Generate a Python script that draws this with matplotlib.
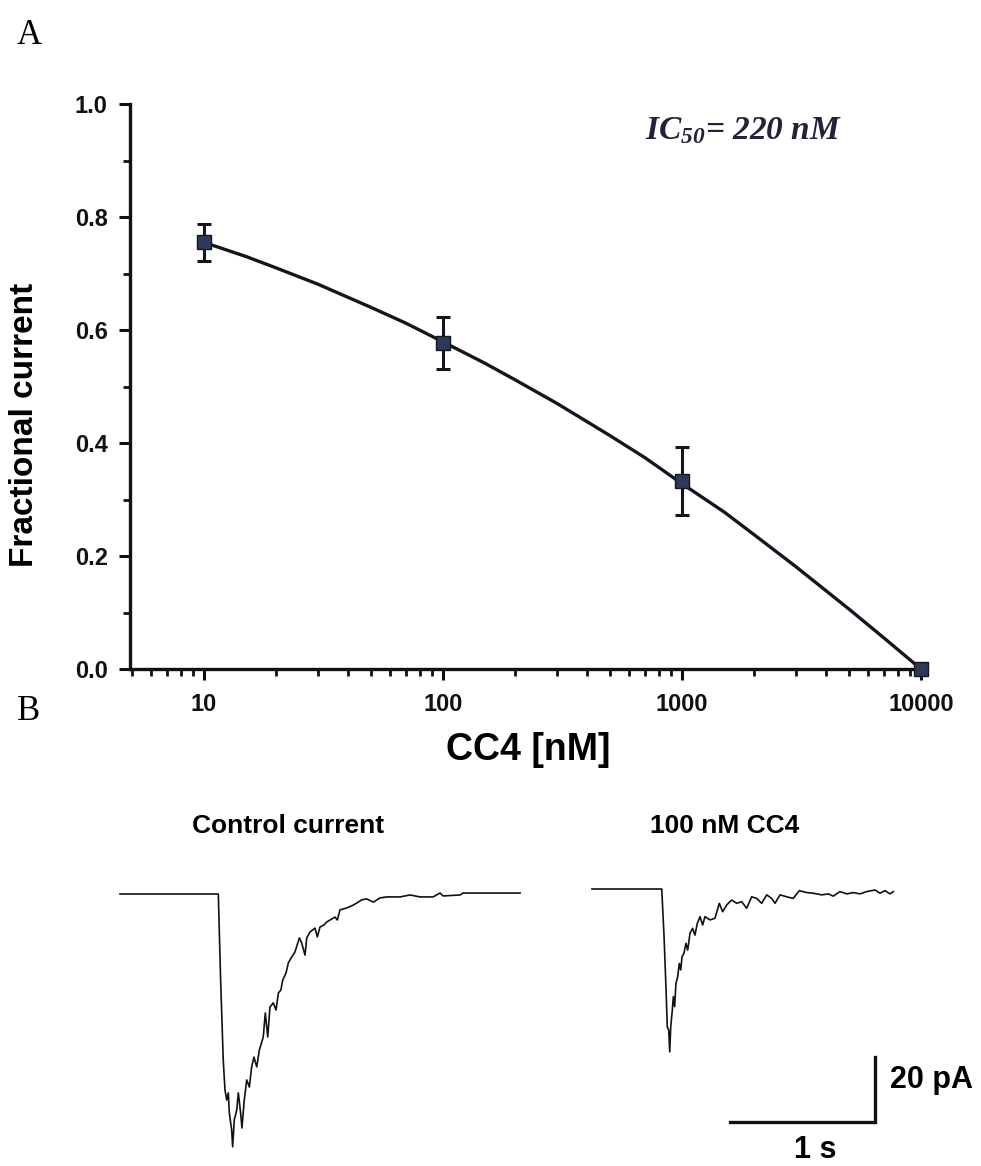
import matplotlib
matplotlib.use("Agg")
import matplotlib.pyplot as plt
from matplotlib.ticker import FixedLocator, FuncFormatter, LogLocator, NullFormatter

plt.rcParams['font.family'] = ['Liberation Sans', 'DejaVu Sans']
plt.rcParams['mathtext.fontset'] = 'custom'
plt.rcParams['mathtext.rm'] = 'Liberation Serif:italic:bold'
plt.rcParams['mathtext.it'] = 'Liberation Serif:italic:bold'

# panel A: dose-response
conc = [10, 100, 1000, 10000]
frac = [0.755, 0.577, 0.333, 0.0]
frac_err = [0.033, 0.046, 0.060, 0.0]

# fitted curve
fit_conc = [10, 15, 20, 30, 50, 70, 100, 150, 200, 300, 500, 700, 1000,
            1500, 2000, 3000, 5000, 7000, 10000]
fit_frac = [0.755, 0.730, 0.710, 0.681, 0.640, 0.612, 0.579, 0.541, 0.512,
            0.470, 0.413, 0.374, 0.328, 0.278, 0.238, 0.181, 0.106, 0.055, 0.0]

x_ticks = [10, 100, 1000, 10000]
y_ticks = [0.0, 0.2, 0.4, 0.6, 0.8, 1.0]

# panel B: current traces (time in s, current in pA)
ctrl_t = [0.000, 0.678, 0.694, 0.712, 0.724, 0.736, 0.747, 0.754, 0.770, 0.777,
          0.788, 0.805, 0.816, 0.832, 0.841, 0.857, 0.874, 0.892, 0.908, 0.924,
          0.943, 0.961, 0.988, 1.002, 1.019, 1.034, 1.057, 1.076, 1.092, 1.110,
          1.122, 1.145, 1.161, 1.184, 1.207, 1.237, 1.253, 1.276, 1.288, 1.310,
          1.345, 1.361, 1.379, 1.407, 1.426, 1.460, 1.483, 1.499, 1.517, 1.563,
          1.609, 1.643, 1.667, 1.701, 1.747, 1.793, 1.839, 1.885, 1.931, 2.000,
          2.069, 2.159, 2.207, 2.228, 2.345, 2.366, 2.503, 2.759]
ctrl_i = [0.0, 0.0, -26.5, -51.1, -60.3, -63.4, -61.2, -67.4, -72.6, -77.8,
          -69.5, -66.5, -61.2, -67.4, -72.0, -63.4, -57.2, -59.4, -53.2, -50.2,
          -53.2, -48.0, -44.0, -36.6, -44.0, -34.8, -33.5, -35.7, -30.5, -29.5,
          -26.5, -24.3, -21.2, -19.4, -17.8, -13.5, -15.1, -18.8, -13.5, -11.7,
          -10.5, -13.2, -10.2, -9.5, -8.6, -7.7, -7.1, -8.0, -4.9, -4.3,
          -3.4, -2.5, -1.8, -1.5, -2.5, -1.2, -0.9, -0.9, -0.9, -0.3,
          -0.9, -0.9, 0.3, -0.6, -0.3, 0.3, 0.3, 0.3]

cc4_t = [0.000, 0.481, 0.497, 0.510, 0.519, 0.529, 0.536, 0.543, 0.554, 0.561,
         0.570, 0.579, 0.591, 0.602, 0.612, 0.621, 0.634, 0.648, 0.660, 0.676,
         0.694, 0.710, 0.726, 0.745, 0.763, 0.779, 0.814, 0.848, 0.878, 0.901,
         0.929, 0.963, 0.998, 1.032, 1.067, 1.101, 1.136, 1.170, 1.205, 1.239,
         1.262, 1.297, 1.343, 1.388, 1.430, 1.481, 1.526, 1.584, 1.630, 1.664,
         1.710, 1.757, 1.802, 1.848, 1.894, 1.952, 1.986, 2.021, 2.055, 2.078]
cc4_i = [0.0, 0.0, -14.7, -30.1, -42.4, -43.4, -50.1, -42.4, -37.2, -33.1,
         -36.2, -29.0, -27.0, -22.9, -24.9, -20.8, -19.8, -16.7, -18.8, -13.6,
         -12.1, -14.2, -10.6, -8.5, -11.1, -8.5, -9.5, -9.0, -4.4, -7.0,
         -4.9, -3.4, -4.4, -3.9, -5.9, -2.4, -2.9, -4.4, -1.8, -2.9,
         -4.4, -1.8, -2.4, -2.9, -0.5, -1.1, -1.3, -1.8, -1.5, -2.2,
         -0.8, -1.5, -1.1, -1.5, -0.8, -0.3, -1.3, -0.5, -1.5, -0.8]

W, H = 981, 1166


def fx(px):
    return px / W


def fy(py):
    return 1 - py / H


fig = plt.figure(figsize=(9.81, 11.66), dpi=100)

# ---- panel A ----
ax = fig.add_axes([fx(130), fy(669), fx(926) - fx(130), fy(104) - fy(669)])
ax.plot(fit_conc, fit_frac, color='#151520', lw=2.4, zorder=2)
ax.errorbar(conc, frac, yerr=frac_err, fmt='s', color='#151520',
            mfc='#2c3a58', mec='#151520', ms=10, elinewidth=2.2,
            capsize=5, capthick=2.2, zorder=3, clip_on=False)
ax.set_xscale('log')
ax.set_xlim(4.9, 10500)
ax.set_ylim(0, 1.0)
ax.spines['top'].set_visible(False)
ax.spines['right'].set_visible(False)
for s in ('left', 'bottom'):
    ax.spines[s].set_linewidth(2.4)
    ax.spines[s].set_color('#111111')

ax.xaxis.set_major_locator(FixedLocator(x_ticks))
ax.xaxis.set_major_formatter(FuncFormatter(lambda v, p: '%d' % v))
ax.xaxis.set_minor_locator(LogLocator(base=10, subs=range(2, 10), numticks=20))
ax.xaxis.set_minor_formatter(NullFormatter())
ax.yaxis.set_major_locator(FixedLocator(y_ticks))
ax.yaxis.set_minor_locator(FixedLocator([0.1, 0.3, 0.5, 0.7, 0.9]))
ax.yaxis.set_major_formatter(FuncFormatter(lambda v, p: '%.1f' % v))

ax.tick_params(which='major', direction='out', length=8, width=2.2,
               labelsize=17, colors='#111111')
ax.tick_params(which='minor', direction='out', length=5, width=2, colors='#111111')
ax.tick_params(axis='x', which='major', pad=9)
ax.tick_params(axis='y', which='major', pad=8)
for lab in ax.get_xticklabels() + ax.get_yticklabels():
    lab.set_fontweight('bold')

ax.set_xlabel('CC4 [nM]', fontsize=27, fontweight='bold')
ax.xaxis.set_label_coords(0.5, (669 - 750) / 565, transform=ax.transAxes)
ax.xaxis.label.set_va('center')
ax.set_ylabel('Fractional current', fontsize=24, fontweight='bold')
ax.yaxis.set_label_coords((25 - 130) / 796, (669 - 425) / 565, transform=ax.transAxes)
ax.yaxis.label.set_va('center')

fig.text(fx(645), fy(131), 'IC$_{50}$= 220 nM', fontsize=24, color='#22223a',
         family='Liberation Serif', style='italic', weight='bold', va='center')

fig.text(fx(17), fy(36), 'A', fontsize=25, family='Liberation Serif', va='center')
fig.text(fx(17), fy(712), 'B', fontsize=25, family='Liberation Serif', va='center')

# ---- panel B ----
px_per_s = 145.0
px_per_pa = 3.25
bx = fig.add_axes([fx(100), fy(1166), fx(980) - fx(100), fy(860) - fy(1166)])
bx.set_xlim(-20 / px_per_s, 860 / px_per_s)
bx.set_ylim(-272 / px_per_pa, 34 / px_per_pa)
bx.axis('off')

cc4_dt = 472 / px_per_s
cc4_di = 5 / px_per_pa
bx.plot(ctrl_t, ctrl_i, color='#111111', lw=1.2)
bx.plot([t + cc4_dt for t in cc4_t], [i + cc4_di for i in cc4_i],
        color='#111111', lw=1.2)

# scale bars: 1 s, 20 pA
sb_x0 = 610 / px_per_s
sb_y0 = -228 / px_per_pa
bx.plot([sb_x0, sb_x0 + 1.0, sb_x0 + 1.0], [sb_y0, sb_y0, sb_y0 + 20],
        color='#111111', lw=2.4, solid_joinstyle='miter')

fig.text(fx(288), fy(826), 'Control current', fontsize=19, fontweight='bold',
         ha='center', va='center')
fig.text(fx(725), fy(826), '100 nM CC4', fontsize=19, fontweight='bold',
         ha='center', va='center')
fig.text(fx(890), fy(1080), '20 pA', fontsize=22, fontweight='bold',
         ha='left', va='center')
fig.text(fx(815), fy(1150), '1 s', fontsize=22, fontweight='bold',
         ha='center', va='center')

fig.savefig('out.png', dpi=100, facecolor='white')
